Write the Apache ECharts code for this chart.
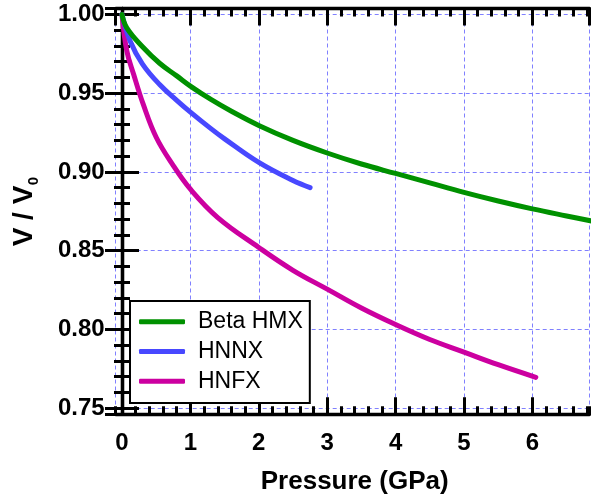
<!DOCTYPE html>
<html>
<head>
<meta charset="utf-8">
<script src="https://cdn.jsdelivr.net/npm/echarts@6/dist/echarts.min.js"></script>
<style>
html,body{margin:0;padding:0;background:#fff;}
#c{width:591px;height:498px;}
</style>
</head>
<body>
<div id="c"></div>
<script>
// ---- data ----
const seriesNames = ['Beta HMX', 'HNNX', 'HNFX'];
const hmxP = [0, 0.07, 0.3, 0.55, 0.8, 1, 1.3, 1.6, 2, 2.5, 3, 3.5, 4, 4.5, 5, 5.5, 6, 6.5, 6.9];
const hmxV = [1.0, 0.9915, 0.9795, 0.969, 0.961, 0.9545, 0.946, 0.9385, 0.9295, 0.920, 0.912, 0.905, 0.899, 0.893, 0.887, 0.8815, 0.8765, 0.872, 0.8685];
const hnnxP = [0, 0.12, 0.3, 0.55, 0.8, 1, 1.3, 1.5, 2, 2.5, 2.75];
const hnnxV = [1.0, 0.983, 0.9685, 0.9555, 0.9455, 0.938, 0.9275, 0.921, 0.906, 0.8945, 0.890];
const hnfxP = [0, 0.07, 0.17, 0.31, 0.5, 0.75, 1, 1.4, 2, 2.5, 3, 3.5, 4, 4.5, 5, 5.5, 6.05];
const hnfxV = [1.0, 0.977, 0.962, 0.943, 0.922, 0.904, 0.889, 0.871, 0.852, 0.8375, 0.8255, 0.8135, 0.803, 0.7935, 0.7855, 0.7775, 0.7695];
const xTickLabels = ['0', '1', '2', '3', '4', '5', '6'];
const yTickLabels = ['0.75', '0.80', '0.85', '0.90', '0.95', '1.00'];

const colors = ['#009100', '#4848ff', '#cc00a0'];
const xMin = -0.092, xMax = 6.835, yMin = 0.746, yMax = 1.0038;

const chart = echarts.init(document.getElementById('c'), null, {renderer: 'canvas'});
const FONT = 'Liberation Sans';
const gridRect = {left: 115.7, right: 1.5, top: 8.5, bottom: 83.7};

function zip(a, b) { return a.map((v, i) => [v, b[i]]); }

const frameLine = {show: true, lineStyle: {color: '#000', width: 3.3}};
const gridLine = {show: true, lineStyle: {color: '#8080ff', width: 1, type: [4, 3]}};

function xAx(grid, pos, major) {
  return {
    type: 'value', gridIndex: grid, position: pos, min: xMin, max: xMax,
    minInterval: major ? 1 : 0.2, maxInterval: major ? 1 : 0.2,
    axisLine: grid === 0 ? frameLine : {show: false},
    axisTick: {show: true, inside: true, length: major ? 17 : 8, lineStyle: {color: '#000', width: 3}},
    axisLabel: (grid === 0 && pos === 'bottom') ? {
      show: true, margin: 17, showMinLabel: false, showMaxLabel: false,
      fontFamily: FONT, fontWeight: 'bold', fontSize: 24, color: '#000',
      formatter: v => xTickLabels[Math.round(v)] || ''
    } : {show: false},
    splitLine: (grid === 0 && pos === 'bottom') ? gridLine : {show: false}
  };
}
function yAx(grid, pos, major) {
  return {
    type: 'value', gridIndex: grid, position: pos, min: yMin, max: yMax,
    minInterval: major ? 0.05 : 0.01, maxInterval: major ? 0.05 : 0.01,
    axisLine: grid === 0 ? frameLine : {show: false},
    axisTick: {show: true, inside: true, length: major ? 17 : 8, lineStyle: {color: '#000', width: 3}},
    axisLabel: (grid === 0 && pos === 'left') ? {
      show: true, margin: 11, showMinLabel: false, showMaxLabel: false,
      fontFamily: FONT, fontWeight: 'bold', fontSize: 24, color: '#000',
      formatter: v => yTickLabels[Math.round((v - 0.75) / 0.05)] || ''
    } : {show: false},
    splitLine: (grid === 0 && pos === 'left') ? gridLine : {show: false}
  };
}

const option = {
  animation: false,
  backgroundColor: '#fff',
  grid: [Object.assign({}, gridRect), Object.assign({}, gridRect)],
  xAxis: [xAx(0, 'bottom', true), xAx(0, 'top', true), xAx(1, 'bottom', false), xAx(1, 'top', false)],
  yAxis: [yAx(0, 'left', true), yAx(0, 'right', true), yAx(1, 'left', false), yAx(1, 'right', false)],
  legend: {
    orient: 'vertical', left: 130, top: 301,
    data: seriesNames,
    icon: 'roundRect',
    itemWidth: 46, itemHeight: 5, itemGap: 0,
    padding: [6, 7, 7, 9],
    backgroundColor: '#fff', borderColor: '#000', borderWidth: 2,
    textStyle: {fontFamily: FONT, fontSize: 23, color: '#000', lineHeight: 29.7, padding: [0, 0, 0, 8]},
    z: 10
  },
  graphic: [
    {type: 'text', x: 354.7, y: 482, z: 10,
      style: {text: 'Pressure (GPa)', fontFamily: FONT, fontWeight: 'bold', fontSize: 26, fill: '#000', textAlign: 'center', textVerticalAlign: 'middle'}},
    {type: 'text', x: 24, y: 216, rotation: Math.PI / 2, z: 10,
      style: {text: 'V / V', fontFamily: FONT, fontWeight: 'bold', fontSize: 28, fill: '#000', textAlign: 'center', textVerticalAlign: 'middle'}},
    {type: 'text', x: 34, y: 181, rotation: Math.PI / 2, z: 10,
      style: {text: '0', fontFamily: FONT, fontWeight: 'bold', fontSize: 15, fill: '#000', textAlign: 'center', textVerticalAlign: 'middle'}}
  ],
  series: [
    {name: seriesNames[0], data: zip(hmxP, hmxV)},
    {name: seriesNames[1], data: zip(hnnxP, hnnxV)},
    {name: seriesNames[2], data: zip(hnfxP, hnfxV)}
  ].map((s, i) => Object.assign(s, {
    type: 'line', xAxisIndex: 0, yAxisIndex: 0, symbol: 'none', showSymbol: false,
    smooth: 0.4, clip: true, z: 3 - i + 2,
    color: colors[i],
    itemStyle: {color: colors[i]},
    lineStyle: {color: colors[i], width: 5, cap: 'round', join: 'round'}
  }))
};
chart.setOption(option);
</script>
</body>
</html>
